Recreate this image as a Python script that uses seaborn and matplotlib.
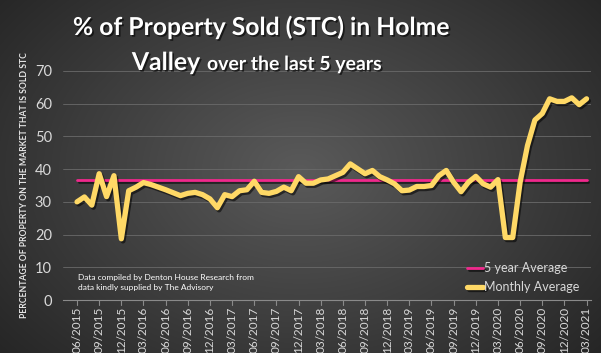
import matplotlib
matplotlib.use("Agg")
import matplotlib.pyplot as plt
import matplotlib.patheffects as pe
import numpy as np
import pandas as pd
import seaborn as sns

# monthly % of property sold STC, 06/2015 .. 03/2021
monthly_avg = [30, 31.5, 29, 38.6, 31.6, 38, 18.7, 33.4, 34.5, 35.9,
               35.3, 34.5, 33.7, 32.8, 31.9, 32.6, 32.9, 32.2, 30.9, 28.2,
               32.2, 31.6, 33.4, 33.7, 36.3, 32.9, 32.6, 33.2, 34.5, 33.4,
               37.7, 35.7, 35.7, 36.7, 37, 38, 39, 41.6, 40.1, 38.6,
               39.6, 37.7, 36.7, 35.5, 33.4, 33.6, 34.7, 34.7, 35, 38,
               39.6, 36, 33.1, 36, 37.8, 35.5, 34.5, 36.8, 19.1, 19.1,
               36, 47.2, 55, 57, 61.5, 60.7, 60.7, 61.8, 59.7, 61.5]
five_year_avg = 36.6
tick_labels = ["06/2015", "09/2015", "12/2015", "03/2016", "06/2016", "09/2016",
               "12/2016", "03/2017", "06/2017", "09/2017", "12/2017", "03/2018",
               "06/2018", "09/2018", "12/2018", "03/2019", "06/2019", "09/2019",
               "12/2019", "03/2020", "06/2020", "09/2020", "12/2020", "03/2021"]

df = pd.DataFrame({
    "month": np.arange(len(monthly_avg)),
    "monthly": monthly_avg,
    "avg": [five_year_avg] * len(monthly_avg),
})

sns.set_style("dark")
plt.rcParams["font.family"] = ["Lato", "DejaVu Sans"]

fig = plt.figure(figsize=(6.01, 3.53), dpi=100)

# dark radial background
bg = fig.add_axes([0, 0, 1, 1], zorder=0)
yy, xx = np.mgrid[0:353, 0:601]
r = np.sqrt(((xx - 300) / 420.0) ** 2 + ((yy - 170) / 300.0) ** 2)
bg.imshow(np.clip(r, 0, 1), cmap=matplotlib.colors.LinearSegmentedColormap.from_list(
    "bg", ["#5a5a5a", "#262626"]), aspect="auto", extent=[0, 1, 0, 1])
bg.axis("off")

ax = fig.add_axes([63 / 601, 53 / 353, 528 / 601, 229 / 353], zorder=1)
ax.set_facecolor("none")

shadow = [pe.SimpleLineShadow(offset=(1.2, -1.5), shadow_color="black", alpha=0.55), pe.Normal()]
sns.lineplot(data=df, x="month", y="avg", ax=ax, color="#f0288c", linewidth=2.0,
             label="5 year Average", path_effects=shadow)
sns.lineplot(data=df, x="month", y="monthly", ax=ax, color="#ffd966", linewidth=3.8,
             label="Monthly Average", path_effects=shadow,
             solid_joinstyle="round", solid_capstyle="round")

ax.set_xlim(-1.9, 69.6)
ax.set_ylim(0, 70)
ax.set_yticks(range(0, 71, 10))
ax.set_xticks(range(0, len(monthly_avg), 3))
ax.set_xticklabels(tick_labels, rotation=90)
ax.tick_params(axis="y", colors="#d9d9d9", labelsize=10.5, length=0, pad=8)
ax.tick_params(axis="x", colors="#d9d9d9", labelsize=8.5, length=0, pad=5)
ax.grid(axis="y", color="#6a6a6a", linewidth=0.6)
ax.grid(axis="x", visible=False)
for s in ["top", "right", "left"]:
    ax.spines[s].set_visible(False)
ax.spines["bottom"].set_color("#8a8a8a")
ax.spines["bottom"].set_linewidth(0.8)
for t in ax.get_xticks():
    ax.plot([t, t], [0, -1.6], color="#8a8a8a", linewidth=0.8, clip_on=False)
ax.set_xlabel("")
ax.set_ylabel("PERCENTAGE OF PROPERTY ON THE MARKET THAT IS SOLD STC",
              color="#e6e6e6", fontsize=6.2, fontweight="bold", labelpad=4)

leg = ax.legend(loc="lower right", bbox_to_anchor=(1.0, -0.02), frameon=False,
                fontsize=9, labelcolor="#d9d9d9", handlelength=1.3,
                handletextpad=0.1, labelspacing=0.55)

ax.text(0.028, 0.04, "Data compiled by Denton House Research from\ndata kindly supplied by The Advisory",
        transform=ax.transAxes, color="white", fontsize=6.0, va="bottom", ha="left",
        linespacing=1.4)

title_fx = [pe.withSimplePatchShadow(offset=(1.2, -1.2), shadow_rgbFace="black", alpha=0.6)]
fig.text(261 / 601, 1 - 35 / 353, "% of Property Sold (STC) in Holme", ha="center",
         va="baseline", color="white", fontsize=17.8, fontweight="bold", path_effects=title_fx)
fig.text(200 / 601, 1 - 70 / 353, "Valley", ha="right", va="baseline", color="white",
         fontsize=17.8, fontweight="bold", path_effects=title_fx)
fig.text(207 / 601, 1 - 70 / 353, "over the last 5 years", ha="left", va="baseline",
         color="white", fontsize=14, fontweight="bold", path_effects=title_fx)

fig.savefig("out.png", dpi=100)
